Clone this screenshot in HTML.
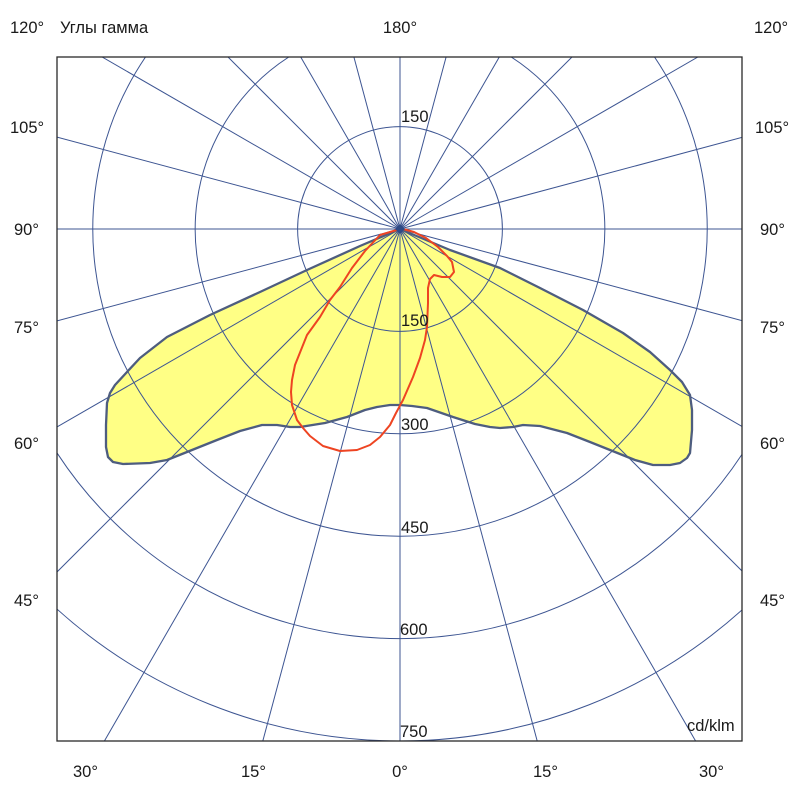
<!DOCTYPE html>
<html>
<head>
<meta charset="utf-8">
<style>
  html,body{margin:0;padding:0;background:#fff;width:800px;height:800px;overflow:hidden;}
  svg{display:block;overflow:hidden;}
  text{font-family:"Liberation Sans","DejaVu Sans",sans-serif;font-size:16.5px;fill:#1a1a1a;}
</style>
</head>
<body>
<svg width="800" height="800" viewBox="0 0 800 800" xmlns="http://www.w3.org/2000/svg">
  <defs>
    <clipPath id="box">
      <rect x="57" y="57" width="685" height="684"/>
    </clipPath>
  </defs>
  <rect x="0" y="0" width="800" height="800" fill="#fff"/>

  <!-- yellow fill -->
  <path d="M400,229 L393,232 L360,246 L307,270 L260,292 L210,315 L167,337 L140,358 L127,372 L115,385 L110,393 L107,403 L106,425 L106,447 L108,457 L113,462 L123,464 L150,463 L167,460 L187,452 L217,440 L240,431 L262,425 L277,425 L290,427 L300,427 L325,423 L347,417 L365,410 L377,407 L390,405 L400,405 L412,406 L427,408 L453,417 L475,424 L490,427 L500,428 L513,427 L523,425 L540,426 L567,433 L590,442 L610,450 L635,460 L653,465 L670,465 L680,463 L687,458 L690,453 L692,430 L692,410 L690,395 L682,382 L670,370 L650,352 L623,333 L583,310 L540,288 L500,268 L450,250 L407,232 Z" fill="#ffff85" stroke="none"/>

  <!-- grid -->
  <g clip-path="url(#box)" stroke="#3d5592" stroke-width="1" fill="none">
    <circle cx="400" cy="229" r="102.4"/>
    <path d="M288.8,57 A204.8,204.8 0 1 0 511.2,57"/>
    <path d="M145.5,57 A307.2,307.2 0 1 0 654.5,57"/>
    <path d="M57,452.9 A409.6,409.6 0 0 0 742,454.4"/>
    <path d="M57,609.1 A512,512 0 0 0 742,610"/>
    <line x1="400" y1="229" x2="400" y2="741"/>
    <line x1="400" y1="229" x2="537.2" y2="741"/>
    <line x1="400" y1="229" x2="262.8" y2="741"/>
    <line x1="400" y1="229" x2="695.6" y2="741"/>
    <line x1="400" y1="229" x2="104.4" y2="741"/>
    <line x1="400" y1="229" x2="742" y2="571"/>
    <line x1="400" y1="229" x2="57" y2="572"/>
    <line x1="400" y1="229" x2="742" y2="426.5"/>
    <line x1="400" y1="229" x2="57" y2="427"/>
    <line x1="400" y1="229" x2="742" y2="320.6"/>
    <line x1="400" y1="229" x2="57" y2="320.9"/>
    <line x1="400" y1="229" x2="742" y2="229"/>
    <line x1="400" y1="229" x2="57" y2="229"/>
    <line x1="400" y1="229" x2="742" y2="137.4"/>
    <line x1="400" y1="229" x2="57" y2="137.1"/>
    <line x1="400" y1="229" x2="697.9" y2="57"/>
    <line x1="400" y1="229" x2="102.1" y2="57"/>
    <line x1="400" y1="229" x2="572" y2="57"/>
    <line x1="400" y1="229" x2="228" y2="57"/>
    <line x1="400" y1="229" x2="499.3" y2="57"/>
    <line x1="400" y1="229" x2="300.7" y2="57"/>
    <line x1="400" y1="229" x2="446.1" y2="57"/>
    <line x1="400" y1="229" x2="353.9" y2="57"/>
    <line x1="400" y1="229" x2="400" y2="57"/>
  </g>

  <!-- outlines -->
  <path d="M400,229 L393,232 L360,246 L307,270 L260,292 L210,315 L167,337 L140,358 L127,372 L115,385 L110,393 L107,403 L106,425 L106,447 L108,457 L113,462 L123,464 L150,463 L167,460 L187,452 L217,440 L240,431 L262,425 L277,425 L290,427 L300,427 L325,423 L347,417 L365,410 L377,407 L390,405 L400,405 L412,406 L427,408 L453,417 L475,424 L490,427 L500,428 L513,427 L523,425 L540,426 L567,433 L590,442 L610,450 L635,460 L653,465 L670,465 L680,463 L687,458 L690,453 L692,430 L692,410 L690,395 L682,382 L670,370 L650,352 L623,333 L583,310 L540,288 L500,268 L450,250 L407,232 Z" fill="none" stroke="#4e5d7f" stroke-width="2.3" stroke-linejoin="round"/>
  <path d="M400,229 L380,235 L365,251 L352,268 L340,287 L330,300 L320,317 L307,335 L301,350 L295,365 L292,380 L291,392 L292,405 L297,420 L303,428 L310,436 L323,446 L340,451 L357,450 L370,445 L380,437 L390,425 L396,413 L403,400 L413,377 L420,358 L425,340 L427,327 L428,303 L428,288 L430,279 L434,275 L442,277 L450,277 L454,272 L452,262 L447,256 L438,247 L426,238 L414,232 L405,229.5 Z" fill="none" stroke="#ee4422" stroke-width="2" stroke-linejoin="round"/>

  <!-- center diamond -->
  <polygon points="400,224 405,229 400,234 395,229" fill="#2f4a86"/>

  <!-- box -->
  <rect x="57" y="57" width="685" height="684" fill="none" stroke="#2a2a2a" stroke-width="1.3"/>

  <!-- top labels -->
  <text x="10" y="33">120°</text>
  <text x="60" y="33">Углы гамма</text>
  <text x="400" y="33" text-anchor="middle">180°</text>
  <text x="754" y="33">120°</text>

  <!-- left labels -->
  <text x="10" y="133">105°</text>
  <text x="14" y="235">90°</text>
  <text x="14" y="333">75°</text>
  <text x="14" y="449">60°</text>
  <text x="14" y="606">45°</text>

  <!-- right labels -->
  <text x="755" y="133">105°</text>
  <text x="760" y="235">90°</text>
  <text x="760" y="333">75°</text>
  <text x="760" y="449">60°</text>
  <text x="760" y="606">45°</text>

  <!-- bottom labels -->
  <text x="73" y="777">30°</text>
  <text x="241" y="777">15°</text>
  <text x="400" y="777" text-anchor="middle">0°</text>
  <text x="533" y="777">15°</text>
  <text x="699" y="777">30°</text>

  <!-- radial value labels -->
  <text x="401" y="122">150</text>
  <text x="401" y="326">150</text>
  <text x="401" y="430">300</text>
  <text x="401" y="533">450</text>
  <text x="400" y="635">600</text>
  <text x="400" y="737">750</text>

  <text x="687" y="731">cd/klm</text>
</svg>
</body>
</html>
